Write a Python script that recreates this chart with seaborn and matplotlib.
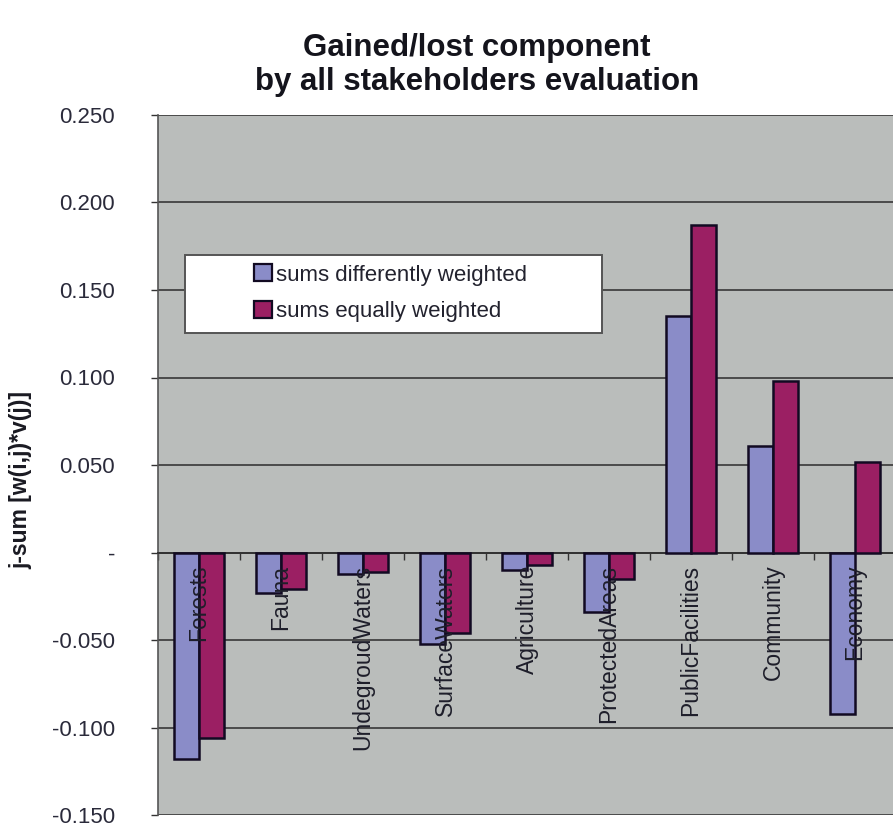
import numpy as np
import pandas as pd
import matplotlib
matplotlib.use("Agg")
import matplotlib.pyplot as plt
import seaborn as sns
from matplotlib.ticker import FuncFormatter
from matplotlib.patches import Rectangle

categories = ["Forests", "Fauna", "UndegroudWaters", "SurfaceWaters", "Agriculture",
              "ProtectedAreas", "PublicFacilities", "Community", "Economy"]
diff_weighted = [-0.118, -0.023, -0.012, -0.052, -0.010, -0.034, 0.135, 0.061, -0.092]
equal_weighted = [-0.106, -0.021, -0.011, -0.046, -0.007, -0.015, 0.187, 0.098, 0.052]
series_names = ["sums differently weighted", "sums equally weighted"]
y_ticks = [-0.150, -0.100, -0.050, 0.0, 0.050, 0.100, 0.150, 0.200, 0.250]

df = pd.DataFrame({
    "component": categories * 2,
    "value": diff_weighted + equal_weighted,
    "series": [series_names[0]] * len(categories) + [series_names[1]] * len(categories),
})

sns.set_style("white")
plt.rcParams["font.family"] = ["Liberation Sans", "DejaVu Sans"]

fig = plt.figure(figsize=(8.93, 8.27), dpi=100)
ax = fig.add_axes([158 / 893, 12 / 827, 738 / 893, 700 / 827])
ax.set_facecolor("#babdbb")

palette = {series_names[0]: "#8a8cc8", series_names[1]: "#9b1f63"}
sns.barplot(data=df, x="component", y="value", hue="series", palette=palette,
            width=0.6, gap=0, saturation=1, edgecolor="#120a22", linewidth=1.8,
            ax=ax, zorder=3, legend=False)

ax.set_ylim(-0.150, 0.250)
ax.set_xlim(-0.5, len(categories) - 0.5)
ax.set_yticks(y_ticks)
ax.yaxis.set_major_formatter(FuncFormatter(lambda v, _: "-" if abs(v) < 1e-9 else f"{v:.3f}"))
ax.grid(axis="y", color="#4a4a4a", linewidth=1.4, zorder=0)
ax.set_axisbelow(True)

# category boundaries as ticks on the zero line
ax.spines["bottom"].set_position(("data", 0))
ax.spines["bottom"].set_color("#333333")
ax.spines["bottom"].set_linewidth(1.4)
ax.set_xticks(np.arange(-0.5, len(categories), 1.0))
ax.set_xticklabels([])
ax.tick_params(axis="x", direction="out", length=5, width=1, color="#333333", bottom=True)
ax.tick_params(axis="y", direction="out", length=5, width=1, color="#333333", left=True,
               labelsize=16, labelcolor="#2a2a3a", pad=26)
ax.spines["left"].set_color("#555555")
ax.spines["left"].set_linewidth(1.2)
for s in ["top", "right"]:
    ax.spines[s].set_visible(False)
ax.set_xlabel("")
ax.set_ylabel("")

for i, name in enumerate(categories):
    ax.text(i, -0.007, name, rotation=90, ha="center", va="top",
            fontsize=16.5, color="#1e1e2a", zorder=5)

fig.text(21 / 893, 1 - 480 / 827, "j-sum [w(i,j)*v(j)]", rotation=90, ha="center",
         va="center", fontsize=16.5, fontweight="bold", color="#1a1a22")
fig.text(477 / 893, 1 - 65 / 827, "Gained/lost component\nby all stakeholders evaluation",
         ha="center", va="center", fontsize=22.5, fontweight="bold", color="#14141c",
         linespacing=1.2)

# legend box
box = Rectangle((185 / 893, 1 - 333 / 827), (602 - 185) / 893, 78 / 827,
                transform=fig.transFigure, facecolor="white", edgecolor="#555555",
                linewidth=1.4, zorder=6)
fig.patches.append(box)
handles = [Rectangle((0, 0), 1, 1, facecolor=palette[n], edgecolor="#120a22", linewidth=1.6)
           for n in series_names]
leg = fig.legend(handles, series_names, loc="upper left",
                 bbox_to_anchor=(250 / 893, 1 - 260 / 827), frameon=False,
                 fontsize=16, handlelength=0.8, handleheight=0.8, handletextpad=0.15,
                 labelspacing=0.7, borderaxespad=0, borderpad=0.2)
for t in leg.get_texts():
    t.set_color("#22222e")
leg.set_zorder(7)

fig.savefig("out.png", dpi=100, facecolor="white")
